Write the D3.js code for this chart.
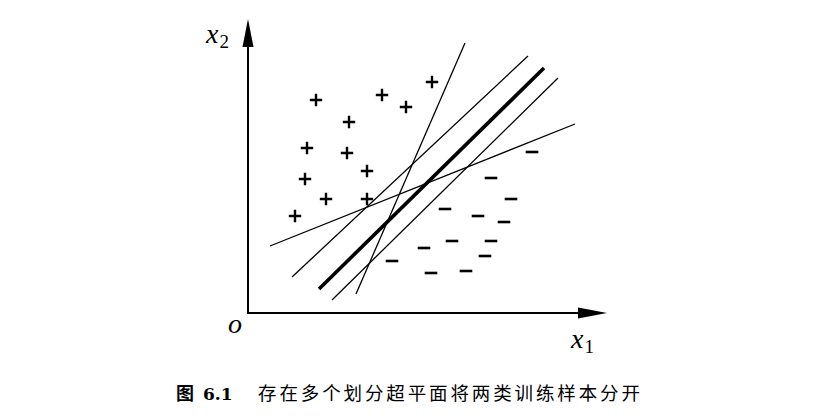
<!DOCTYPE html>
<html>
<head>
<meta charset="utf-8">
<script src="https://cdn.jsdelivr.net/npm/d3@7"></script>
<style>
  html, body { margin: 0; padding: 0; background: #fff; }
  svg { display: block; }
</style>
</head>
<body>
<svg id="chart" width="840" height="416"></svg>
<script>
// Data (in plot units: origin at the axes corner)
const plusPoints = [
  [68, 213], [134, 218], [158, 206], [184, 231], [101, 191], [59, 165],
  [99, 160], [119, 142], [57, 134], [78, 114], [119, 114], [47, 97]
];
const minusPoints = [
  [284, 161], [243, 135], [263, 114], [197, 104], [230, 97], [256, 91],
  [204, 72], [243, 72], [176, 65], [237, 57], [144, 52], [183, 40], [218, 42]
];
// separating hyperplanes: [x1, y1, x2, y2, isOptimal]
const hyperplanes = [
  [71, 24, 296, 245, true],
  [108, 19, 217, 270, false],
  [44, 36, 280, 257, false],
  [84, 13, 310, 235, false],
  [22, 67, 327, 189, false]
];
const axisLabels = { x: "1", y: "2", origin: "o" };
const captionNum = "6.1";
const captionText = "存在多个划分超平面将两类训练样本分开";

const svg = d3.select("#chart");
const x = d3.scaleLinear().domain([0, 360]).range([248, 608]);
const y = d3.scaleLinear().domain([0, 294]).range([313, 19]);

// Axes with arrows
const g = svg.append("g");
g.append("line").attr("x1", x(0)).attr("y1", y(0)).attr("x2", x(340)).attr("y2", y(0))
  .attr("stroke", "#000").attr("stroke-width", 2);
g.append("line").attr("x1", x(0)).attr("y1", y(0) + 1).attr("x2", x(0)).attr("y2", y(270))
  .attr("stroke", "#000").attr("stroke-width", 2);
// x arrow
g.append("path")
  .attr("d", `M${x(359)},${y(0)} L${x(330)},${y(0) - 5.5} L${x(330)},${y(0) + 5.5} Z`)
  .attr("fill", "#000");
// y arrow
g.append("path")
  .attr("d", `M${x(0)},${y(294)} L${x(0) - 5.5},${y(266)} L${x(0) + 5.5},${y(266)} Z`)
  .attr("fill", "#000");

// Hyperplanes
svg.append("g").selectAll("line").data(hyperplanes).join("line")
  .attr("x1", d => x(d[0])).attr("y1", d => y(d[1]))
  .attr("x2", d => x(d[2])).attr("y2", d => y(d[3]))
  .attr("stroke", "#000")
  .attr("stroke-width", d => d[4] ? 3.6 : 1.3);

// Plus markers
const s = 6.2;
svg.append("g").selectAll("path").data(plusPoints).join("path")
  .attr("d", d => `M${x(d[0]) - s},${y(d[1])} H${x(d[0]) + s} M${x(d[0])},${y(d[1]) - s} V${y(d[1]) + s}`)
  .attr("stroke", "#000").attr("stroke-width", 2.4).attr("fill", "none");

// Minus markers
svg.append("g").selectAll("line").data(minusPoints).join("line")
  .attr("x1", d => x(d[0]) - 6.3).attr("x2", d => x(d[0]) + 6.3)
  .attr("y1", d => y(d[1])).attr("y2", d => y(d[1]))
  .attr("stroke", "#000").attr("stroke-width", 2.6);

// Axis labels
const serif = "'Liberation Serif', 'DejaVu Serif', serif";
const ly = svg.append("text").attr("x", 206).attr("y", 43)
  .attr("font-family", serif).attr("font-size", 28);
ly.append("tspan").attr("font-style", "italic").text("x");
ly.append("tspan").attr("font-size", 19).attr("dy", 5).attr("dx", 1).text(axisLabels.y);

const lx = svg.append("text").attr("x", 571).attr("y", 348)
  .attr("font-family", serif).attr("font-size", 28);
lx.append("tspan").attr("font-style", "italic").text("x");
lx.append("tspan").attr("font-size", 19).attr("dy", 5).attr("dx", 1).text(axisLabels.x);

svg.append("text").attr("x", 228).attr("y", 333)
  .attr("font-family", serif).attr("font-size", 28).attr("font-style", "italic")
  .text(axisLabels.origin);

// Caption
svg.append("text").attr("x", 176).attr("y", 400)
  .attr("font-family", "'Noto Sans CJK SC', sans-serif").attr("font-weight", "bold")
  .attr("font-size", 18).text("图");
svg.append("text").attr("x", 203).attr("y", 400)
  .attr("font-family", "'DejaVu Serif', serif").attr("font-weight", "bold")
  .attr("font-size", 17).text(captionNum);
svg.append("text").attr("x", 258).attr("y", 400)
  .attr("font-family", "'Noto Sans CJK SC', sans-serif")
  .attr("font-size", 18.5)
  .attr("textLength", 382).attr("lengthAdjust", "spacing")
  .text(captionText);
</script>
</body>
</html>
